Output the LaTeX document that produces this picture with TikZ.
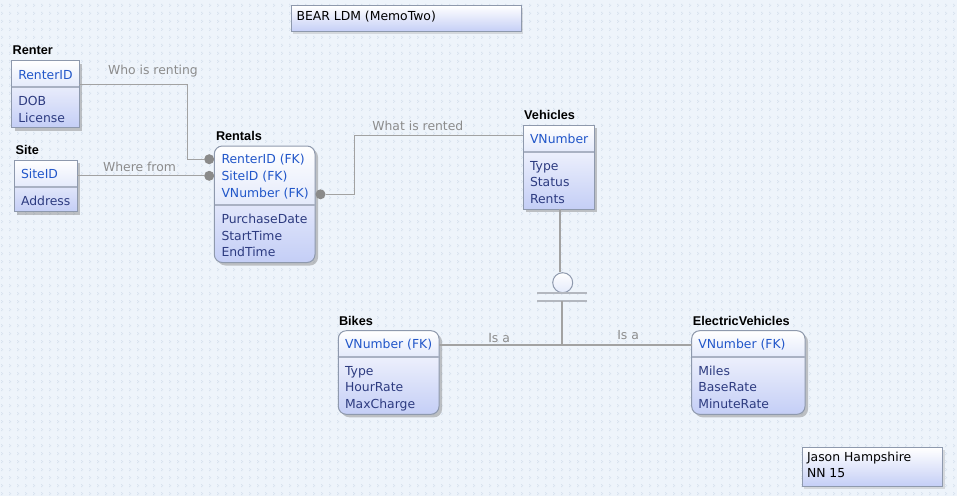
\documentclass[tikz,border=0pt]{standalone}
\usepackage{fontspec}
\setmainfont{DejaVu Sans}
\newfontfamily\headfont{Liberation Sans}
\usetikzlibrary{shadows,patterns}
\pgfdeclarepatternformonly{bgdots}{\pgfqpoint{0pt}{0pt}}{\pgfqpoint{5pt}{5pt}}{\pgfqpoint{8pt}{8pt}}{%
  \pgfpathrectangle{\pgfqpoint{1pt}{1pt}}{\pgfqpoint{1pt}{1pt}}%
  \pgfpathrectangle{\pgfqpoint{2pt}{2pt}}{\pgfqpoint{1pt}{1pt}}%
  \pgfpathrectangle{\pgfqpoint{1pt}{3pt}}{\pgfqpoint{1pt}{1pt}}%
  \pgfusepath{fill}}
\definecolor{bg}{HTML}{EEF4FB}
\definecolor{bgdot}{HTML}{D9E3EF}
\definecolor{edgec}{HTML}{8E99AD}
\definecolor{boxbot}{HTML}{C4CEF6}
\definecolor{keybot}{HTML}{E4EAFB}
\definecolor{divc}{HTML}{A9B1C3}
\definecolor{keyc}{HTML}{2156C9}
\definecolor{attc}{HTML}{2D3B80}
\definecolor{connc}{HTML}{A2A2A2}
\definecolor{labc}{HTML}{8C8C8C}
\definecolor{dotc}{HTML}{8A8A8A}
\definecolor{barc}{HTML}{B3B7BF}
\tikzset{
  entbox/.style={anchor=north west, inner sep=0pt, outer sep=0pt,
    top color=white, bottom color=boxbot,
    drop shadow={shadow xshift=3pt, shadow yshift=-3pt, opacity=0.45, fill=black!50}},
  keyshade/.style={top color=white, bottom color=keybot},
  edgeline/.style={draw=edgec, line width=1pt},
  divline/.style={draw=divc, line width=1.8pt},
  basetxt/.style={anchor=base west, inner sep=0pt, outer sep=0pt, font=\fontsize{12.4}{14}\selectfont},
  keytxt/.style={basetxt, text=keyc},
  atttxt/.style={basetxt, text=attc},
  plaintxt/.style={basetxt, text=black},
  headtxt/.style={anchor=base west, inner sep=0pt, font=\headfont\bfseries\fontsize{12.7}{14}\selectfont, text=black},
  reltxt/.style={basetxt, text=labc},
  conn/.style={draw=connc, line width=1.2pt},
  fkdot/.style={circle, fill=dotc, minimum size=10pt, inner sep=0pt, outer sep=0pt},
  notebox/.style={anchor=north west, inner sep=0pt, draw=edgec, line width=1pt,
    top color=white, bottom color=boxbot,
    drop shadow={shadow xshift=2pt, shadow yshift=-2pt, opacity=0.3, fill=black!40}},
}
% name, x1, y1, x2, y2, ydiv, corner style
\newcommand\entity[7]{%
  \node[entbox,#7,minimum width={#4-#2},minimum height={#5-#3}] (#1) at (#2,#3) {};
  \begin{scope}
    \clip[#7] (#2,#3) rectangle (#4,#5);
    \fill[keyshade] (#2,#3) rectangle (#4,#6);
  \end{scope}
  \draw[edgeline,#7] (#2,#3) rectangle (#4,#5);
  \draw[divline] (#2+0.5,#6) -- (#4-0.5,#6);
}
\begin{document}
\begin{tikzpicture}[x=1pt,y=-1pt]
\useasboundingbox (0,0) rectangle (957,496);
\fill[bg] (0,0) rectangle (957,496);
\fill[pattern=bgdots, pattern color=bgdot] (0,0) rectangle (957,496);

% title and author notes
\node[notebox, minimum width=230, minimum height=26] (title) at (290.7,5.3) {};
\node[plaintxt] (titletext) at (296.5,20.3) {BEAR LDM (MemoTwo)};
\node[notebox, minimum width=140.6, minimum height=38.7] (author) at (801.7,447.3) {};
\node[plaintxt] (author1) at (807,461.8) {Jason Hampshire};
\node[plaintxt] (author2) at (807,477.3) {NN 15};

% Renter
\entity{renter}{11.7}{60.7}{79.3}{127.7}{86.7}{sharp corners}
\node[headtxt] (renterhead) at (12.5,54) {Renter};
\node[keytxt] (renterid) at (18.3,79) {RenterID};
\node[atttxt] (dob) at (18.3,105.8) {DOB};
\node[atttxt] (license) at (18.3,122) {License};

% Site
\entity{site}{14.3}{160}{77.3}{211.7}{186.7}{sharp corners}
\node[headtxt] (sitehead) at (15.5,154) {Site};
\node[keytxt] (siteid) at (21,178.8) {SiteID};
\node[atttxt] (address) at (21,205.8) {Address};

% Rentals
\entity{rentals}{214.3}{146}{315}{262.5}{205}{rounded corners=8pt}
\node[headtxt] (rentalshead) at (215.8,140.5) {Rentals};
\node[keytxt] (r1) at (221.5,163.8) {RenterID (FK)};
\node[keytxt] (r2) at (221.5,180.5) {SiteID (FK)};
\node[keytxt] (r3) at (221.5,197) {VNumber (FK)};
\node[atttxt] (r4) at (221.5,223.8) {PurchaseDate};
\node[atttxt] (r5) at (221.5,240.5) {StartTime};
\node[atttxt] (r6) at (221.5,256.8) {EndTime};

% Vehicles
\entity{vehicles}{523.3}{125.3}{594.3}{209.3}{151.7}{sharp corners}
\node[headtxt] (vehhead) at (524,119.5) {Vehicles};
\node[keytxt] (v1) at (530,143.8) {VNumber};
\node[atttxt] (v2) at (530,170.3) {Type};
\node[atttxt] (v3) at (530,186.7) {Status};
\node[atttxt] (v4) at (530,203) {Rents};

% Bikes
\entity{bikes}{338.3}{330.7}{439}{414.3}{356.7}{rounded corners=8pt}
\node[headtxt] (bikeshead) at (338.8,325) {Bikes};
\node[keytxt] (b1) at (345,348.8) {VNumber (FK)};
\node[atttxt] (b2) at (345,375) {Type};
\node[atttxt] (b3) at (345,391.6) {HourRate};
\node[atttxt] (b4) at (345,408) {MaxCharge};

% ElectricVehicles
\entity{ev}{691.7}{330.7}{805}{414.3}{356.7}{rounded corners=8pt}
\node[headtxt] (evhead) at (692.7,325) {ElectricVehicles};
\node[keytxt] (e1) at (698.3,348.8) {VNumber (FK)};
\node[atttxt] (e2) at (698.3,375) {Miles};
\node[atttxt] (e3) at (698.3,391.6) {BaseRate};
\node[atttxt] (e4) at (698.3,408) {MinuteRate};

% relationship dots
\node[fkdot] (dot1) at (209.2,159.2) {};
\node[fkdot] (dot2) at (209.2,175.8) {};
\node[fkdot] (dot3) at (320.5,194.3) {};

% connectors
\draw[conn] (renter.east |- 0,84.3) -| ([xshift=-22pt]dot1.center) -- (dot1);
\node[reltxt] (lab1) at (108,74.5) {Who is renting};
\draw[conn] (site.east |- dot2) -- (dot2);
\node[reltxt] (lab2) at (103,171.5) {Where from};
\draw[conn] (dot3) -- ([xshift=34pt]dot3.center) |- (vehicles.west |- 0,135.3);
\node[reltxt] (lab3) at (372.3,130.5) {What is rented};

% subtype symbol
\node[circle, draw=edgec, line width=1pt, top color=white, bottom color=keybot,
      minimum size=20pt, inner sep=0pt] (subcirc) at (562.7,282.7) {};
\draw[conn] (vehicles.south -| 560,0) -- (subcirc.north -| 560,0);
\draw[barc, line width=2pt] (537,293.3) -- (587,293.3);
\draw[barc, line width=2pt] (537,301.3) -- (587,301.3);
\coordinate (bar2) at (562,301.3);
\coordinate (junction) at (562,345);
\draw[conn] (bar2) -- (junction);
\draw[conn] (bikes.east |- junction) -- (ev.west |- junction);
\node[reltxt] (lab4) at (488.3,342.8) {Is a};
\node[reltxt] (lab5) at (617.3,339.5) {Is a};
\end{tikzpicture}
\end{document}
